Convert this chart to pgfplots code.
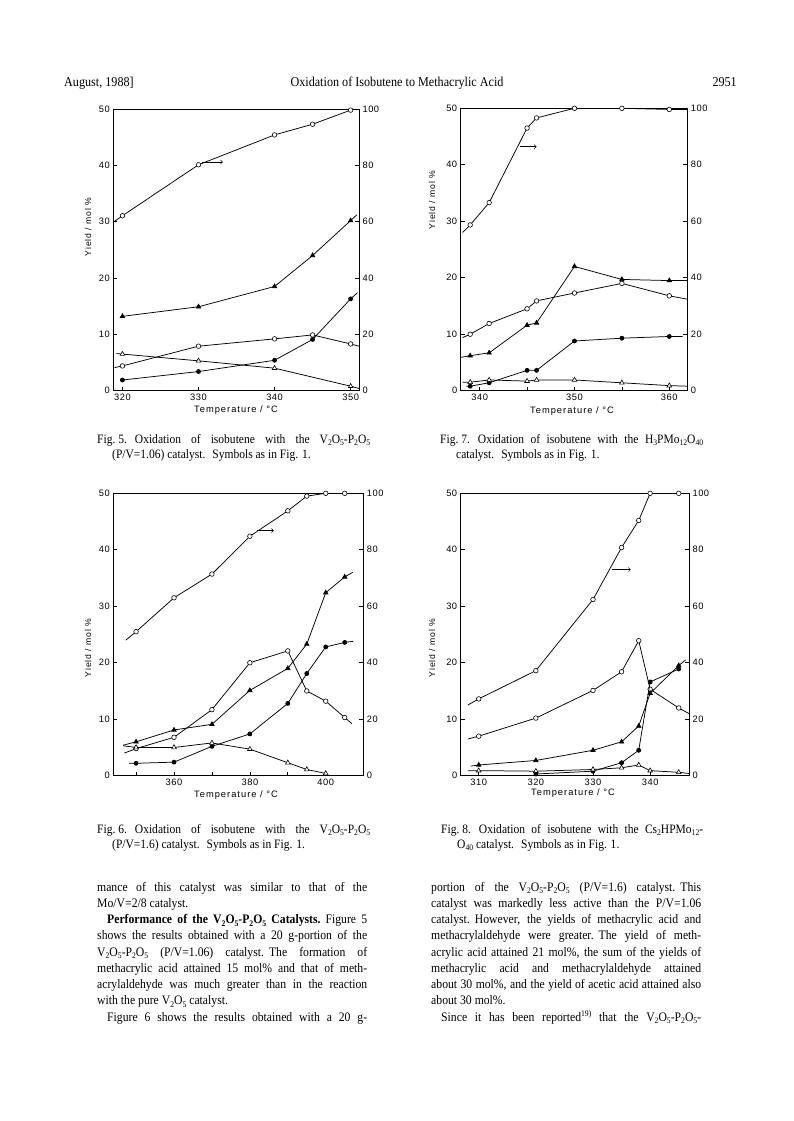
\documentclass[border=0pt]{standalone}
\usepackage{pgfplots}
\pgfplotsset{compat=1.18}
\usepackage{fontspec}
\setmainfont{Liberation Serif}
\newfontfamily\bodyserif{Liberation Serif}[FakeStretch=0.9]
\newfontfamily\plotfont{Liberation Sans}[LetterSpace=6]
\newfontfamily\labfont{Liberation Sans}[LetterSpace=11]
\newcommand\sub[1]{\raisebox{-0.45ex}{\fontsize{8.5}{8}\selectfont #1}}
\newcommand\VP{V\sub{2}O\sub{5}-P\sub{2}O\sub{5}}
\newcommand\bodyfont{\bodyserif\fontsize{13}{14}\selectfont}
\newcommand\capfont{\bodyserif\fontsize{12.8}{13}\selectfont}
\newcommand\jl[1]{\makebox[270pt][s]{#1}}
\newcommand\jli[1]{\hspace*{10pt}\makebox[260pt][s]{#1}}
\newcommand\tickfont{\plotfont\fontsize{9.3}{10}\selectfont}
\newcommand\xlabfont{\labfont\fontsize{9.3}{10}\selectfont}
\newcommand\ylabfont{\labfont\fontsize{8.6}{10}\selectfont}

\pgfplotsset{
  panel/.style={scale only axis, anchor=south west, ymin=0, ymax=50,
    ytick={0,10,20,30,40,50}, ytick pos=left, xtick pos=bottom,
    tick align=inside, major tick length=4pt,
    axis line style={line width=0.8pt},
    every tick/.style={line width=0.7pt, black},
    tick label style={font=\tickfont},
    /pgf/number format/assume math mode=true,
    /pgf/number format/1000 sep={}, clip mode=individual},
  rpanel/.style={scale only axis, anchor=south west, ymin=0, ymax=100,
    ytick={0,20,40,60,80,100}, axis y line*=right, axis x line=none,
    tick align=inside, major tick length=4pt,
    axis line style={line width=0.8pt},
    every tick/.style={line width=0.7pt, black},
    tick label style={font=\tickfont},
    /pgf/number format/assume math mode=true, clip mode=individual},
  ser/.style={black, line width=0.75pt},
  oc/.style={ser, mark=*, mark size=2.3pt, mark options={fill=white, line width=0.6pt}},
  fc/.style={ser, mark=*, mark size=2pt, mark options={fill=black}},
  ft/.style={ser, mark=triangle*, mark size=2.5pt, mark options={fill=black}},
  ot/.style={ser, mark=triangle*, mark size=2.7pt, mark options={fill=white, line width=0.6pt}},
}

\begin{document}
\begin{tikzpicture}
\path[fill=white] (0pt,0pt) rectangle (793pt,-1121pt);

% ---------- header ----------
\node[anchor=base west, inner sep=0pt, font=\bodyserif\fontsize{13.5}{14}\selectfont] at (64pt,-87pt) {August, 1988]};
\node[anchor=base, inner sep=0pt, font=\bodyserif\fontsize{13.5}{14}\selectfont] at (397pt,-87pt) {Oxidation of Isobutene to Methacrylic Acid};
\node[anchor=base east, inner sep=0pt, font=\bodyserif\fontsize{13.5}{14}\selectfont] at (737pt,-87pt) {2951};

% ---------- Fig. 5 ----------
\begin{axis}[panel, at={(113.3pt,-390.7pt)}, width=245.7pt, height=281.7pt,
  xmin=318.8, xmax=351.1, xtick={320,330,340,350}]
\addplot[ft, mark indices={1,2,3,4,5}] coordinates {(320,13.2)(330,14.9)(340,18.5)(345,24.0)(350,30.2)(350.8,31.2)};
\addplot[oc, mark indices={2,3,4,5,6}] coordinates {(319.0,4.1)(320,4.4)(330,7.9)(340,9.2)(345,9.9)(350,8.3)(351.1,7.9)};
\addplot[fc, mark indices={1,2,3,4,5}] coordinates {(320,1.9)(330,3.4)(340,5.4)(345,9.1)(350,16.3)(350.9,17.4)};
\addplot[ot, mark indices={2,3,4,5}] coordinates {(319.2,6.6)(320,6.5)(330,5.3)(340,4.0)(350,0.8)(351.1,0.4)};
\draw[->, line width=0.7pt] (axis cs:330.4,40.6) -- (axis cs:333.2,40.6);
\end{axis}
\begin{axis}[rpanel, at={(113.3pt,-390.7pt)}, width=245.7pt, height=281.7pt,
  xmin=318.8, xmax=351.1]
\addplot[oc, mark indices={2,3,4,5,6}] coordinates {(318.9,60.0)(320,62.1)(330,80.2)(340,90.8)(345,94.6)(350,99.6)};
\end{axis}
\node[rotate=90, font=\ylabfont] at (88pt,-227pt) {Yield / mol \%};
\node[font=\xlabfont] at (236pt,-410pt) {Temperature / °C};

% ---------- Fig. 7 ----------
\begin{axis}[panel, at={(460.7pt,-390.7pt)}, width=226.6pt, height=282.4pt,
  xmin=338.0, xmax=361.9, xtick={340,345,350,355,360}, xticklabels={340,,350,,360}]
\addplot[ft, mark indices={2,3,4,5,6,7,8}] coordinates {(338.0,5.9)(339,6.2)(341,6.7)(345,11.6)(346,12.0)(350,22.0)(355,19.7)(360,19.5)(361.9,19.5)};
\addplot[oc, mark indices={2,3,4,5,6,7,8}] coordinates {(338.2,9.4)(339,10.0)(341,11.9)(345,14.5)(346,15.9)(350,17.3)(355,19.0)(360,16.8)(361.9,16.2)};
\addplot[fc, mark indices={2,3,4,5,6,7,8}] coordinates {(338.6,0.8)(339,0.8)(341,1.4)(345,3.6)(346,3.6)(350,8.8)(355,9.3)(360,9.6)(361.4,9.6)};
\addplot[ot, mark indices={2,3,4,5,6,7,8}] coordinates {(338.2,1.5)(339,1.5)(341,1.9)(345,1.7)(346,1.9)(350,1.9)(355,1.4)(360,0.9)(361.9,0.8)};
\draw[->, line width=0.7pt] (axis cs:344.3,43.2) -- (axis cs:346.0,43.2);
\end{axis}
\begin{axis}[rpanel, at={(460.7pt,-390.7pt)}, width=226.6pt, height=282.4pt,
  xmin=338.0, xmax=361.9]
\addplot[oc, mark indices={2,3,4,5,6,7,8}] coordinates {(338.2,56.0)(339,58.7)(341,66.6)(345,93.0)(346,96.6)(350,100)(355,100)(360,99.6)(361.9,99.6)};
\end{axis}
\node[rotate=90, font=\ylabfont] at (432pt,-200pt) {Yield / mol \%};
\node[font=\xlabfont] at (572pt,-411pt) {Temperature / °C};

% ---------- Fig. 6 ----------
\begin{axis}[panel, at={(113.3pt,-775.7pt)}, width=250pt, height=282.4pt,
  xmin=344.0, xmax=409.9, xtick={350,360,370,380,390,400}, xticklabels={,360,,380,,400}]
\addplot[ft, mark indices={2,3,4,5,6,7,8,9}] coordinates {(346.6,5.4)(350,6.0)(360,8.1)(370,9.1)(380,15.1)(390,19.0)(395,23.3)(400,32.4)(405,35.2)(407.1,36.0)};
\addplot[oc, mark indices={2,3,4,5,6,7,8,9}] coordinates {(346.9,4.0)(350,4.8)(360,6.8)(370,11.7)(380,20.0)(390,22.1)(395,15.0)(400,13.2)(405,10.3)(406.9,9.2)};
\addplot[fc, mark indices={2,3,4,5,6,7,8,9}] coordinates {(348.2,2.2)(350,2.2)(360,2.4)(370,5.2)(380,7.4)(390,12.8)(395,18.1)(400,22.8)(405,23.6)(407.3,23.8)};
\addplot[ot, mark indices={2,3,4,5,6,7,8}] coordinates {(346.6,5.3)(350,5.0)(360,5.0)(370,5.8)(380,4.7)(390,2.3)(395,1.1)(400,0.4)};
\draw[->, line width=0.7pt] (axis cs:381.9,43.4) -- (axis cs:386.3,43.4);
\end{axis}
\begin{axis}[rpanel, at={(113.3pt,-775.7pt)}, width=250pt, height=282.4pt,
  xmin=344.0, xmax=409.9]
\addplot[oc, mark indices={2,3,4,5,6,7,8,9}] coordinates {(347.3,48.0)(350,51.0)(360,63.0)(370,71.4)(380,84.8)(390,93.8)(395,99.0)(400,100)(405,100)(409.9,100)};
\end{axis}
\node[rotate=90, font=\ylabfont] at (88pt,-648pt) {Yield / mol \%};
\node[font=\xlabfont] at (236pt,-795pt) {Temperature / °C};

% ---------- Fig. 8 ----------
\begin{axis}[panel, at={(460.7pt,-775.7pt)}, width=228.3pt, height=282.4pt,
  xmin=306.85, xmax=346.8, xtick={310,320,330,340}]
\addplot[oc, mark indices={2,3,4,5,6,7,8}] coordinates {(308.1,6.5)(310,7.0)(320,10.2)(330,15.1)(335,18.4)(338,23.9)(340,15.3)(345,12.0)(346.8,11.0)};
\addplot[ft, mark indices={2,3,4,5,6,7,8}] coordinates {(308.6,1.7)(310,1.9)(320,2.7)(330,4.5)(335,6.0)(338,8.8)(340,14.6)(345,19.5)(346.2,20.5)};
\addplot[fc, mark indices={1,2,3,4,5,6}] coordinates {(320,0.3)(330,0.8)(335,2.3)(338,4.5)(340,16.6)(345,18.9)};
\addplot[ot, mark indices={2,3,4,5,6,7,8}] coordinates {(308.1,0.9)(310,0.9)(320,0.8)(330,1.1)(335,1.4)(338,1.9)(340,0.9)(345,0.6)(346.8,0.4)};
\draw[->, line width=0.7pt] (axis cs:333.4,36.5) -- (axis cs:336.6,36.5);
\end{axis}
\begin{axis}[rpanel, at={(460.7pt,-775.7pt)}, width=228.3pt, height=282.4pt,
  xmin=306.85, xmax=346.8]
\addplot[oc, mark indices={2,3,4,5,6,7,8}] coordinates {(308.1,25.0)(310,27.2)(320,37.2)(330,62.4)(335,80.8)(338,90.4)(340,100)(345,100)(346.8,100)};
\end{axis}
\node[rotate=90, font=\ylabfont] at (432pt,-648pt) {Yield / mol \%};
\node[font=\xlabfont] at (573pt,-793pt) {Temperature / °C};

% ---------- captions ----------
\begin{scope}[every node/.style={anchor=base west, inner sep=0pt, font=\capfont}]
\node at (97pt,-443pt) {\makebox[273pt][s]{\hbox{Fig.\ 5.}\hspace{8pt}Oxidation of isobutene with the \VP}};
\node at (112pt,-458pt) {(P/V=1.06) catalyst.\hspace{7pt}Symbols as in Fig. 1.};
\node at (440pt,-443pt) {\makebox[263pt][s]{\hbox{Fig.\ 7.}\hspace{8pt}Oxidation of isobutene with the H\sub{3}PMo\sub{12}O\sub{40}}};
\node at (456pt,-458pt) {catalyst.\hspace{7pt}Symbols as in Fig. 1.};
\node at (97pt,-833pt) {\makebox[273pt][s]{\hbox{Fig.\ 6.}\hspace{8pt}Oxidation of isobutene with the \VP}};
\node at (112pt,-848pt) {(P/V=1.6) catalyst.\hspace{7pt}Symbols as in Fig. 1.};
\node at (441pt,-833pt) {\makebox[262pt][s]{\hbox{Fig.\ 8.}\hspace{8pt}Oxidation of isobutene with the Cs\sub{2}HPMo\sub{12}-}};
\node at (457pt,-848pt) {O\sub{40} catalyst.\hspace{7pt}Symbols as in Fig. 1.};
\end{scope}

% ---------- body text, left column ----------
\begin{scope}[every node/.style={anchor=base west, inner sep=0pt, font=\bodyfont}]
\node at (97pt,-891pt) {\jl{mance of this catalyst was similar to that of the}};
\node at (97pt,-907.25pt) {Mo/V=2/8 catalyst.};
\node at (97pt,-923.5pt) {\jli{\textbf{Performance of the \VP\ Catalysts.}\hspace{5pt}Figure 5}};
\node at (97pt,-939.75pt) {\jl{shows the results obtained with a 20 g-portion of the}};
\node at (97pt,-956pt) {\jl{\VP\ (P/V=1.06) catalyst.\hspace{5pt}The formation of}};
\node at (97pt,-972.25pt) {\jl{methacrylic acid attained 15 mol\% and that of meth-}};
\node at (97pt,-988.5pt) {\jl{acrylaldehyde was much greater than in the reaction}};
\node at (97pt,-1004.75pt) {with the pure V\sub{2}O\sub{5} catalyst.};
\node at (97pt,-1021pt) {\jli{Figure 6 shows the results obtained with a 20 g-}};
% ---------- right column ----------
\node at (431pt,-891pt) {\jl{portion of the \VP\ (P/V=1.6) catalyst.\hspace{5pt}This}};
\node at (431pt,-907.25pt) {\jl{catalyst was markedly less active than the P/V=1.06}};
\node at (431pt,-923.5pt) {\jl{catalyst.\hspace{5pt}However, the yields of methacrylic acid and}};
\node at (431pt,-939.75pt) {\jl{methacrylaldehyde were greater.\hspace{5pt}The yield of meth-}};
\node at (431pt,-956pt) {\jl{acrylic acid attained 21 mol\%, the sum of the yields of}};
\node at (431pt,-972.25pt) {\jl{methacrylic acid and methacrylaldehyde attained}};
\node at (431pt,-988.5pt) {\jl{about 30 mol\%, and the yield of acetic acid attained also}};
\node at (431pt,-1004.75pt) {about 30 mol\%.};
\node at (431pt,-1021pt) {\jli{Since it has been reported\raisebox{0.8ex}{\fontsize{8.5}{8}\selectfont 19)} that the \VP-}};
\end{scope}
\end{tikzpicture}
\end{document}
